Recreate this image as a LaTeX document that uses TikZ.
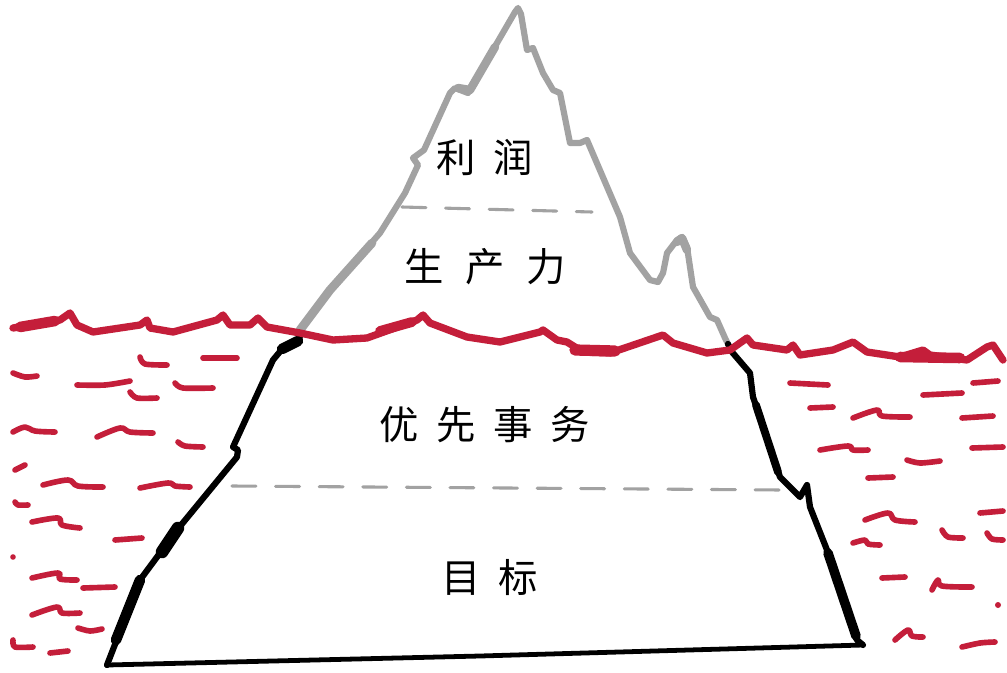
\documentclass[tikz,border=0pt]{standalone}
\usepackage{fontspec}
\newfontfamily\cjkfont{Noto Sans CJK SC}
\definecolor{sea}{HTML}{C41E3A}
\definecolor{ice}{HTML}{A2A2A2}
\begin{document}
\begin{tikzpicture}[x=0.025cm, y=-0.025cm, line cap=round, line join=round,
  surface/.style={sea, line width=5.2pt},
  ripple/.style={sea, line width=4pt},
  tipline/.style={ice, line width=4.4pt},
  baseline/.style={black, line width=4.4pt},
  layer/.style={ice, line width=2.2pt, dash pattern=on 17pt off 14pt},
  label/.style={font=\cjkfont\fontsize{28}{30}\selectfont, text=black, inner sep=0pt}]
\useasboundingbox (0,0) rectangle (1007,672);
\fill[white] (0,0) rectangle (1007,672);

% visible tip of the iceberg (grey)
\draw[tipline] plot[sharp plot] coordinates {
  (298,332) (330,290) (380,233) (405,193) (418,165) (413,158) (424,150)
  (450,93) (455,88) (468,93) (497,43) (515,12) (518,8) (521,14) (527,50)
  (533,48) (543,73) (553,90) (560,93) (570,143) (580,143) (587,140)
  (620,217) (630,253) (650,280) (658,282) (663,273) (667,253) (677,240)
  (682,237) (687,247) (693,287) (710,317) (717,320) (725,338) (728,344)};
\draw[ice, line width=6.2pt] (300,330) -- (330,290) -- (372,243);
\draw[ice, line width=6pt] (458,88) -- (470,90) -- (495,47);
\draw[ice, line width=6pt] (677,242) -- (682,238) -- (687,250);

% submerged part of the iceberg (black)
\draw[baseline] plot[sharp plot] coordinates {
  (728,344) (732,352) (750,373) (753,397) (780,477) (800,497) (807,485)
  (810,507) (827,550) (857,640) (863,645)};
\draw[black, line width=3.4pt] (863,645) -- (480,656) -- (107,665);
\draw[baseline] plot[sharp plot] coordinates {
  (107,665) (140,580) (177,530) (237,457) (238,450) (233,447) (273,360)
  (283,348) (298,342) (301,333)};
\draw[black, line width=7.5pt] (282,349) -- (298,341);
\draw[black, line width=9pt] (178,528) -- (162,552);
\draw[black, line width=7.5pt] (140,580) -- (116,640);
\draw[black, line width=6.8pt] (828,553) -- (856,636);
\draw[black, line width=5.6pt] (756,405) -- (778,472);

% water surface
\draw[surface] plot[sharp plot] coordinates {
  (13,328) (60,320) (70,313) (77,325) (93,332) (140,325) (147,320) (150,328)
  (173,332) (217,320) (223,315) (230,325) (250,325) (258,318) (267,327)
  (300,333) (333,340) (367,338) (417,320) (423,315) (430,323) (467,337)
  (500,342) (540,332) (543,330) (557,340) (567,342) (583,352) (610,353)
  (657,337) (663,335) (673,343) (707,353) (730,350) (747,338) (753,345)
  (787,350) (793,345) (800,355) (833,350) (853,342) (867,352) (900,357)
  (923,350) (930,355) (967,360) (987,347) (993,345) (1003,360)};
\draw[sea, line width=8pt] (575,350) -- (615,351);
\draw[sea, line width=7.5pt] (900,357) -- (960,358);
\draw[sea, line width=7.5pt] (20,327) -- (55,321);
\draw[sea, line width=7pt] (380,331) -- (412,322);

% ripples, left side
\draw[ripple] plot[smooth] coordinates {(13,373) (25,377) (37,376)};
\draw[ripple] plot[smooth] coordinates {(77,385) (105,385) (130,381)};
\draw[ripple] plot[smooth] coordinates {(140,357) (145,364) (167,365)};
\draw[ripple] (203,358) -- (237,358);
\draw[ripple] plot[smooth] coordinates {(130,392) (137,398) (157,398)};
\draw[ripple] plot[smooth] coordinates {(175,383) (183,388) (213,388)};
\draw[ripple] plot[smooth, tension=0.6] coordinates {(13,432) (25,427) (35,431) (55,432)};
\draw[ripple] plot[smooth, tension=0.6] coordinates {(97,437) (120,428) (130,432) (153,433)};
\draw[ripple] plot[smooth] coordinates {(178,442) (185,446) (203,447)};
\draw[ripple] (15,470) -- (25,465);
\draw[ripple] plot[smooth, tension=0.6] coordinates {(43,485) (68,480) (78,486) (103,487)};
\draw[ripple] plot[smooth, tension=0.6] coordinates {(140,488) (168,483) (175,486) (190,487)};
\draw[ripple] plot[smooth] coordinates {(15,502) (18,505) (28,505)};
\draw[ripple] plot[smooth, tension=0.6] coordinates {(32,522) (58,518) (62,525) (80,528)};
\draw[ripple] (115,540) -- (142,538);
\fill[sea] (13,557) circle (2.8);
\draw[ripple] plot[smooth, tension=0.6] coordinates {(32,578) (58,573) (60,579) (77,580)};
\draw[ripple] (83,588) -- (115,587);
\draw[ripple] plot[smooth, tension=0.6] coordinates {(32,615) (57,607) (62,613) (80,613)};
\draw[ripple] plot[smooth] coordinates {(78,628) (90,631) (102,629)};
\draw[ripple] plot[smooth] coordinates {(13,640) (15,647) (33,647)};
\draw[ripple] (50,653) -- (68,651);

% ripples, right side
\draw[ripple] (790,383) -- (828,385);
\draw[ripple] (973,383) -- (998,381);
\draw[ripple] (923,395) -- (962,393);
\draw[ripple] (810,408) -- (833,407);
\draw[ripple] plot[smooth, tension=0.6] coordinates {(853,418) (877,410) (882,416) (910,417)};
\draw[ripple] (962,418) -- (993,416);
\draw[ripple] plot[smooth, tension=0.6] coordinates {(820,450) (848,446) (853,450) (868,450)};
\draw[ripple] (972,448) -- (1003,447);
\draw[ripple] plot[smooth] coordinates {(907,460) (920,463) (940,461)};
\draw[ripple] (868,478) -- (893,477);
\draw[ripple] plot[smooth, tension=0.6] coordinates {(865,520) (888,513) (895,520) (915,522)};
\draw[ripple] (980,513) -- (1003,511);
\draw[ripple] plot[smooth] coordinates {(942,530) (948,537) (963,538)};
\draw[ripple] plot[smooth] coordinates {(987,533) (992,539) (1003,540)};
\draw[ripple] plot[smooth, tension=0.6] coordinates {(853,543) (865,540) (868,544) (880,545)};
\draw[ripple] (882,578) -- (905,577);
\draw[ripple] plot[smooth, tension=0.6] coordinates {(932,590) (938,580) (942,586) (972,587)};
\fill[sea] (998,605) circle (3);
\draw[ripple] plot[smooth, tension=0.6] coordinates {(895,640) (908,630) (912,636) (923,637)};
\draw[ripple] plot[smooth] coordinates {(962,647) (980,643) (995,642)};

% layer boundaries
\draw[layer] (402,207) -- (592,212);
\draw[layer] (232,486) -- (782,490);

% layer labels
\node[label] (profit) at (485,157) {利\hspace{0.45em}润};
\node[label] (productivity) at (485,267) {生\hspace{0.55em}产\hspace{0.55em}力};
\node[label] (priorities) at (485,425) {优\hspace{0.45em}先\hspace{0.45em}事\hspace{0.45em}务};
\node[label] (goals) at (490,578) {目\hspace{0.45em}标};
\end{tikzpicture}
\end{document}
